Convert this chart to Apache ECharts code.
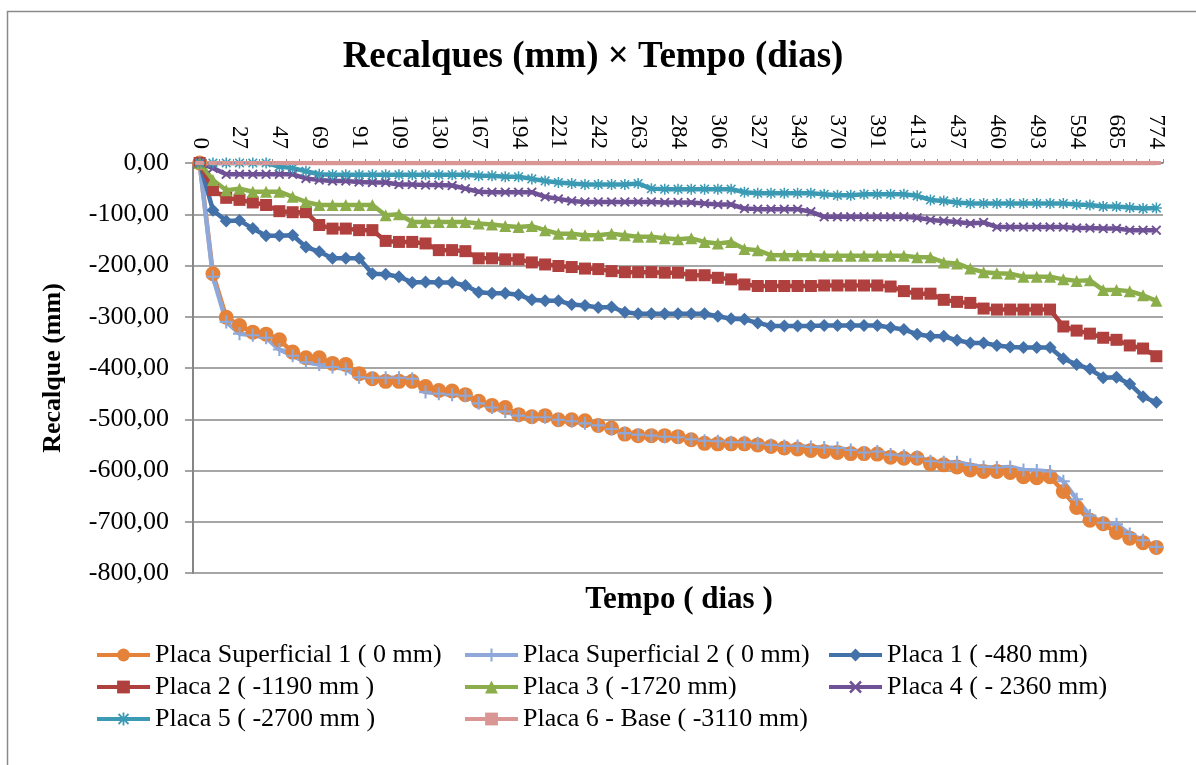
<!DOCTYPE html>
<html>
<head>
<meta charset="utf-8">
<script src="https://cdn.jsdelivr.net/npm/echarts@6/dist/echarts.min.js"></script>
<style>html,body{margin:0;padding:0;background:#fff;}#c{width:1196px;height:765px;}</style>
</head>
<body>
<div id="c"></div>
<script>
var days = ['0','9','18','27','34','40','47','54','62','69','76','84','91','97','103','109','116','123','130','142','155','167','176','185','194','203','212','221','228','235','242','249','256','263','270','277','284','291','298','306','313','320','327','334','341','349','356','363','370','377','384','391','398','405','413','421','429','437','444','452','460','471','482','493','527','560','594','624','655','685','715','745','774'];

var sup1 = [0,-216,-301,-317,-330,-334,-345,-369,-380,-380,
-391,-393,-411,-421,-426,-426,-426,-436,-444,-445,
-452,-465,-473,-477,-491,-495,-493,-501,-501,-503,
-512,-517,-529,-532,-532,-532,-534,-540,-547,-548,
-548,-548,-550,-553,-556,-558,-561,-563,-565,-567,
-567,-568,-574,-576,-576,-587,-589,-593,-599,-602,
-602,-604,-612,-614,-612,-641,-672,-697,-704,-721,
-732,-741,-750];

var sup2 = [0,-222,-310,-333,-336,-341,-364,-376,-389,-393,
-398,-402,-418,-419,-419,-419,-421,-447,-450,-452,
-454,-469,-477,-485,-493,-496,-496,-501,-504,-508,
-512,-519,-527,-530,-532,-534,-535,-539,-542,-543,
-545,-545,-547,-550,-552,-552,-554,-555,-556,-560,
-565,-563,-569,-571,-573,-582,-584,-584,-589,-593,
-594,-593,-599,-600,-602,-621,-656,-688,-702,-705,
-724,-736,-749];

var placa1 = [0,-92,-113,-112,-128,-142,-142,-141,-164,-173,
-186,-186,-186,-216,-217,-222,-233,-232,-233,-233,
-239,-252,-254,-254,-257,-267,-269,-269,-276,-278,
-282,-281,-291,-294,-294,-294,-294,-294,-294,-299,
-304,-305,-312,-318,-318,-318,-318,-317,-317,-317,
-317,-317,-321,-325,-334,-338,-338,-346,-351,-351,
-356,-359,-360,-360,-360,-382,-393,-402,-419,-418,
-431,-456,-467];

var placa2 = [0,-53,-68,-72,-77,-82,-94,-96,-96,-121,
-128,-128,-131,-131,-152,-154,-154,-157,-170,-170,
-172,-186,-186,-188,-188,-194,-198,-201,-203,-206,
-207,-211,-213,-213,-213,-214,-214,-219,-219,-224,
-227,-237,-240,-240,-240,-240,-240,-239,-239,-239,
-239,-239,-241,-250,-255,-255,-267,-271,-273,-284,
-286,-286,-286,-286,-286,-319,-327,-333,-341,-345,
-356,-362,-377];

var placa3 = [0,-33,-53,-50,-56,-56,-56,-66,-76,-82,
-82,-82,-82,-82,-102,-100,-115,-115,-115,-115,
-115,-118,-120,-123,-125,-123,-131,-138,-138,-141,
-141,-138,-141,-144,-144,-147,-149,-147,-154,-157,
-154,-168,-170,-180,-180,-180,-180,-181,-181,-181,
-181,-181,-181,-181,-184,-184,-194,-196,-206,-213,
-215,-216,-222,-222,-222,-227,-230,-229,-248,-248,
-250,-258,-269];

var placa4 = [0,-10,-22,-22,-22,-22,-22,-22,-30,-33,
-35,-35,-37,-38,-38,-42,-42,-43,-43,-44,
-50,-56,-57,-57,-57,-57,-66,-70,-74,-76,
-76,-76,-76,-76,-76,-77,-77,-77,-79,-81,
-81,-89,-90,-90,-90,-90,-95,-105,-105,-105,
-105,-105,-105,-105,-107,-111,-113,-115,-118,-116,
-125,-125,-125,-125,-125,-125,-127,-127,-128,-128,
-131,-131,-131];

var placa5 = [0,0,0,0,0,0,-7,-10,-16,-22,
-23,-23,-23,-23,-23,-23,-23,-23,-23,-23,
-23,-25,-25,-27,-27,-31,-35,-38,-40,-42,
-42,-42,-42,-40,-50,-51,-51,-51,-51,-51,
-51,-57,-59,-59,-59,-59,-59,-61,-63,-63,
-61,-61,-61,-61,-64,-72,-74,-77,-79,-79,
-79,-79,-79,-79,-79,-79,-81,-82,-85,-85,
-87,-89,-88];

var placa6 = [0,0,0,0,0,0,0,0,0,0,
0,0,0,0,0,0,0,0,0,0,
0,0,0,0,0,0,0,0,0,0,
0,0,0,0,0,0,0,0,0,0,
0,0,0,0,0,0,0,0,0,0,
0,0,0,0,0,0,0,0,0,0,
0,0,0,0,0,0,0,0,0,0,
0,0,0];

var names = ['Placa Superficial 1 ( 0 mm)','Placa Superficial 2 ( 0 mm)','Placa 1 ( -480 mm)','Placa 2 ( -1190 mm )','Placa 3 ( -1720 mm)','Placa 4 ( - 2360 mm)','Placa 5 ( -2700 mm )','Placa 6 - Base ( -3110 mm)'];

var FONT = "'Liberation Serif','Times New Roman',serif";
var PLUS = 'path://M4.2,0H5.8V4.2H10V5.8H5.8V10H4.2V5.8H0V4.2H4.2Z';
var CROSS = 'path://M0,1.4L1.4,0L5,3.6L8.6,0L10,1.4L6.4,5L10,8.6L8.6,10L5,6.4L1.4,10L0,8.6L3.6,5Z';
var STAR = 'path://M4.3,0H5.7V3.3L8.4,0.6L9.4,1.6L6.7,4.3H10V5.7H6.7L9.4,8.4L8.4,9.4L5.7,6.7V10H4.3V6.7L1.6,9.4L0.6,8.4L3.3,5.7H0V4.3H3.3L0.6,1.6L1.6,0.6L4.3,3.3Z';

function mk(name, data, color, symbol, size) {
  return {
    name: name, type: 'line', data: data,
    symbol: symbol, symbolSize: size, showAllSymbol: true,
    lineStyle: { color: color, width: 4.5 },
    itemStyle: { color: color },
    emphasis: { disabled: true },
    z: 2
  };
}

var series = [
  mk(names[0], sup1, '#E5823A', 'circle', 15),
  mk(names[1], sup2, '#8EA9D9', PLUS, 13),
  mk(names[2], placa1, '#4371A9', 'diamond', 13),
  mk(names[3], placa2, '#AF403D', 'rect', 12),
  mk(names[4], placa3, '#8BAE4A', 'triangle', 12),
  mk(names[5], placa4, '#6F5195', CROSS, 10),
  mk(names[6], placa5, '#3B9AB4', STAR, 11),
  mk(names[7], placa6, '#D99694', 'rect', [9, 4])
];

function legendCol(data, left) {
  return {
    orient: 'vertical', left: left, top: 637, data: data,
    itemWidth: 53, itemHeight: 16, itemGap: 6,
    lineStyle: { width: 4 },
    textStyle: { fontFamily: FONT, fontSize: 26, color: '#000', lineHeight: 24 },
    selectedMode: false
  };
}

var chart = echarts.init(document.getElementById('c'), null, { renderer: 'canvas' });
chart.setOption({
  animation: false,
  backgroundColor: '#fff',
  title: [
    { text: 'Recalques (mm) × Tempo (dias)', left: 588, textAlign: 'center', top: 34,
      textStyle: { fontFamily: FONT, fontSize: 37, fontWeight: 'bold', color: '#000' } },
    { text: 'Tempo ( dias )', left: 674, textAlign: 'center', top: 579,
      textStyle: { fontFamily: FONT, fontSize: 31, fontWeight: 'bold', color: '#000' } }
  ],
  graphic: [
    { type: 'rect', shape: { x: 7.5, y: 11.5, width: 1200, height: 800 },
      style: { fill: 'none', stroke: '#8a8a8a', lineWidth: 1.5 }, silent: true }
  ],
  legend: [
    legendCol([names[0], names[3], names[6]], 90),
    legendCol([names[1], names[4], names[7]], 458),
    legendCol([names[2], names[5]], 822)
  ],
  grid: { left: 193, right: 33, top: 163, bottom: 192 },
  xAxis: {
    type: 'category', data: days, position: 'top', boundaryGap: true,
    axisLine: { show: true, onZero: false, lineStyle: { color: '#868686', width: 1.5 } },
    axisTick: { show: true, interval: 0, length: 4, lineStyle: { color: '#868686', width: 1 } },
    axisLabel: { interval: 2, rotate: 90, margin: 14, fontFamily: FONT, fontSize: 23, color: '#000' },
    splitLine: { show: false }
  },
  yAxis: {
    type: 'value', min: -800, max: 0, interval: 100,
    name: 'Recalque (mm)', nameLocation: 'middle', nameGap: 127,
    nameTextStyle: { fontFamily: FONT, fontSize: 26, fontWeight: 'bold', color: '#000' },
    axisLine: { show: true, lineStyle: { color: '#868686', width: 2 } },
    axisTick: { show: true, length: 8, lineStyle: { color: '#868686', width: 1.5 } },
    axisLabel: { margin: 24, fontFamily: FONT, fontSize: 26, color: '#000',
      formatter: function (v) { return v.toFixed(2).replace('.', ','); } },
    splitLine: { show: true, lineStyle: { color: '#888888', width: 1.5 } }
  },
  series: series
});
</script>
</body>
</html>
